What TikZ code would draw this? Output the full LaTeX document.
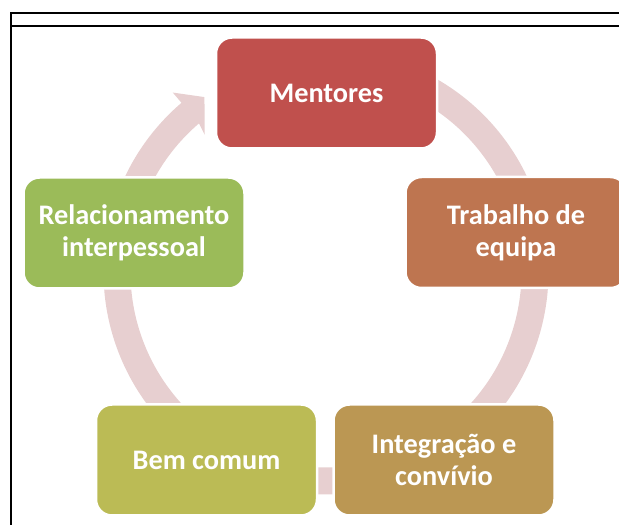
\documentclass[tikz,border=0pt]{standalone}
\usepackage{fontspec}
\setmainfont{Carlito}
\usetikzlibrary{calc}
\definecolor{ringpink}{RGB}{231,207,208}
\definecolor{mentred}{RGB}{192,80,77}
\definecolor{trabbrown}{RGB}{190,117,80}
\definecolor{integgold}{RGB}{187,151,83}
\definecolor{bemolive}{RGB}{187,187,85}
\definecolor{relacgreen}{RGB}{155,187,89}

\begin{document}
\begin{tikzpicture}[x=1pt, y=1pt,
  cyclebox/.style={rounded corners=16pt, minimum width=221pt, minimum height=111pt,
    draw=white, line width=2.5pt, text=white, align=center,
    font=\fontsize{28.3}{32}\selectfont\bfseries},
  frameline/.style={black, line width=1.4pt}]
  \useasboundingbox (0,0) rectangle (619,525);
  % table frame
  \draw[frameline] (11,0) -- (11,512) -- (621,512);
  \draw[frameline] (11,499) -- (621,499);
  % cycle arrows
  \coordinate (hub) at (326,253);
  \foreach \s/\e in {65/18, 5/-52, -62/-118, 235/178, 176/130.5} {
    \fill[ringpink] ($(hub)+(\s:222.5)$) arc[start angle=\s, end angle=\e, radius=222.5]
      -- ($(hub)+(\e:236)$) -- ($(hub)+(\e-5.7:213)$) -- ($(hub)+(\e+1:183)$)
      -- ($(hub)+(\e:195.5)$) arc[start angle=\e, end angle=\s, radius=195.5] -- cycle;
  }
  % boxes
  \node[cyclebox, fill=mentred] (ment) at (326.5,432) {Mentores};
  \node[cyclebox, fill=trabbrown] (trab) at (516,292.5) {Trabalho de\\equipa};
  \node[cyclebox, fill=integgold] (integ) at (444,65) {Integração e\\convívio};
  \node[cyclebox, fill=bemolive] (bem) at (206.5,65) {Bem comum};
  \node[cyclebox, fill=relacgreen] (relac) at (134,292) {Relacionamento\\interpessoal};
\end{tikzpicture}
\end{document}
